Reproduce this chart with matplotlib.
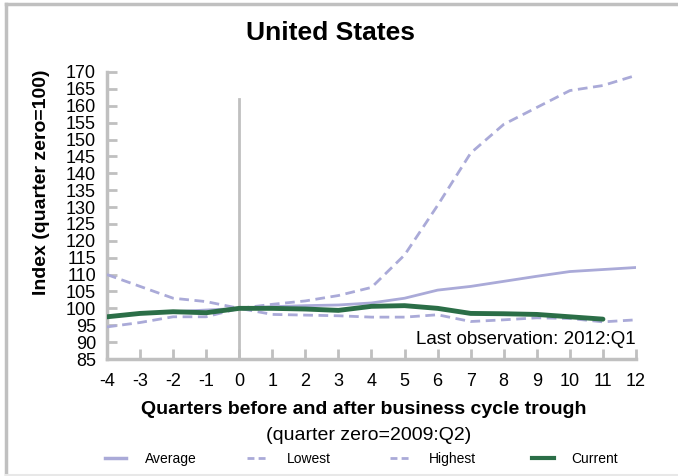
import matplotlib
matplotlib.use("Agg")
import matplotlib.pyplot as plt
from matplotlib.lines import Line2D

plt.rcParams["font.family"] = ["Liberation Sans", "DejaVu Sans"]
plt.rcParams["axes.unicode_minus"] = False

# ---- data ----
quarters = list(range(-4, 13))
average = [97.5, 98.5, 99.0, 99.5, 100.0, 100.5, 100.8, 101.0, 101.6, 103.0,
           105.4, 106.5, 108.0, 109.5, 110.9, 111.5, 112.1]
lowest = [94.5, 95.8, 97.5, 97.5, 100.0, 98.2, 98.0, 97.8, 97.4, 97.4,
          98.1, 96.1, 96.6, 97.2, 97.0, 96.0, 96.6]
highest = [110.0, 106.5, 103.0, 102.0, 100.0, 101.2, 102.2, 103.8, 106.2, 115.8,
           130.5, 146.0, 154.5, 159.5, 164.5, 166.0, 169.0]
cur_q = list(range(-4, 12))
current = [97.5, 98.5, 99.0, 98.7, 100.0, 100.0, 99.8, 99.4, 100.6, 100.8,
           100.0, 98.5, 98.4, 98.2, 97.5, 96.8]
yticks = list(range(85, 171, 5))
names = ["Average", "Lowest", "Highest", "Current"]

LAV = "#aaaad8"
GRN = "#2b6e47"
GRY = "#c0c0c0"
DASH = (0, (3.5, 2))

W, H = 678, 476
fx = lambda px: px / W
fy = lambda py: 1 - py / H

fig = plt.figure(figsize=(6.78, 4.76), dpi=100)
ax = fig.add_axes([fx(107), fy(359), (636-107)/W, (359-72)/H])

ax.plot(quarters, average, color=LAV, lw=2, zorder=3)
ax.plot(quarters, lowest, color=LAV, lw=2, ls=DASH, zorder=3)
ax.plot(quarters, highest, color=LAV, lw=2, ls=DASH, zorder=3)
ax.plot(cur_q, current, color=GRN, lw=3.5, zorder=4, solid_capstyle="round")
ax.plot([0, 0], [85, 162], color=GRY, lw=2, zorder=2)

ax.set_xlim(-4, 12); ax.set_ylim(85, 170)
ax.set_xticks(quarters); ax.set_yticks(yticks)
ax.tick_params(axis="both", direction="in", color=GRY, width=2, length=7, labelsize=13)
ax.tick_params(axis="y", pad=8)
ax.tick_params(axis="x", pad=10)
for s in ["top", "right"]:
    ax.spines[s].set_visible(False)
for s in ["left", "bottom"]:
    ax.spines[s].set_color(GRY); ax.spines[s].set_linewidth(2.5)
ax.patch.set_alpha(0)

ax.text(12, 88.3, "Last observation: 2012:Q1", ha="right", va="bottom", fontsize=13.5)

fig.text(fx(42), fy(182), "Index (quarter zero=100)", rotation=90, ha="center", va="center",
         fontsize=14, fontweight="bold")
fig.text(fx(330), fy(33), "United States", ha="center", va="center", fontsize=19, fontweight="bold")
fig.text(fx(364), fy(410), "Quarters before and after business cycle trough", ha="center", va="center",
         fontsize=14, fontweight="bold")
fig.text(fx(369), fy(436), "(quarter zero=2009:Q2)", ha="center", va="center", fontsize=14)

# legend, placed by hand
styles = [dict(color=LAV, lw=2.5), dict(color=LAV, lw=2, ls=(0, (2.5, 1.5))),
          dict(color=LAV, lw=2, ls=(0, (2.5, 1.5))), dict(color=GRN, lw=3)]
line_x = [(105, 126), (247, 269), (390, 411), (532, 554)]
text_x = [145, 287, 429, 571]
for nm, st, (x0, x1), tx in zip(names, styles, line_x, text_x):
    fig.add_artist(Line2D([fx(x0), fx(x1)], [fy(458), fy(458)], transform=fig.transFigure, **st))
    fig.text(fx(tx), fy(459), nm, ha="left", va="center", fontsize=10)

# outer border
fig.add_artist(Line2D([fx(6), fx(6)], [0, fy(4)], color=GRY, lw=2.5, transform=fig.transFigure))
fig.add_artist(Line2D([fx(6), 1], [fy(4), fy(4)], color=GRY, lw=2.5, transform=fig.transFigure))
fig.add_artist(Line2D([fx(6), 1], [fy(475), fy(475)], color="#e8e8e8", lw=1.5, transform=fig.transFigure))

fig.savefig("out.png", dpi=100)
